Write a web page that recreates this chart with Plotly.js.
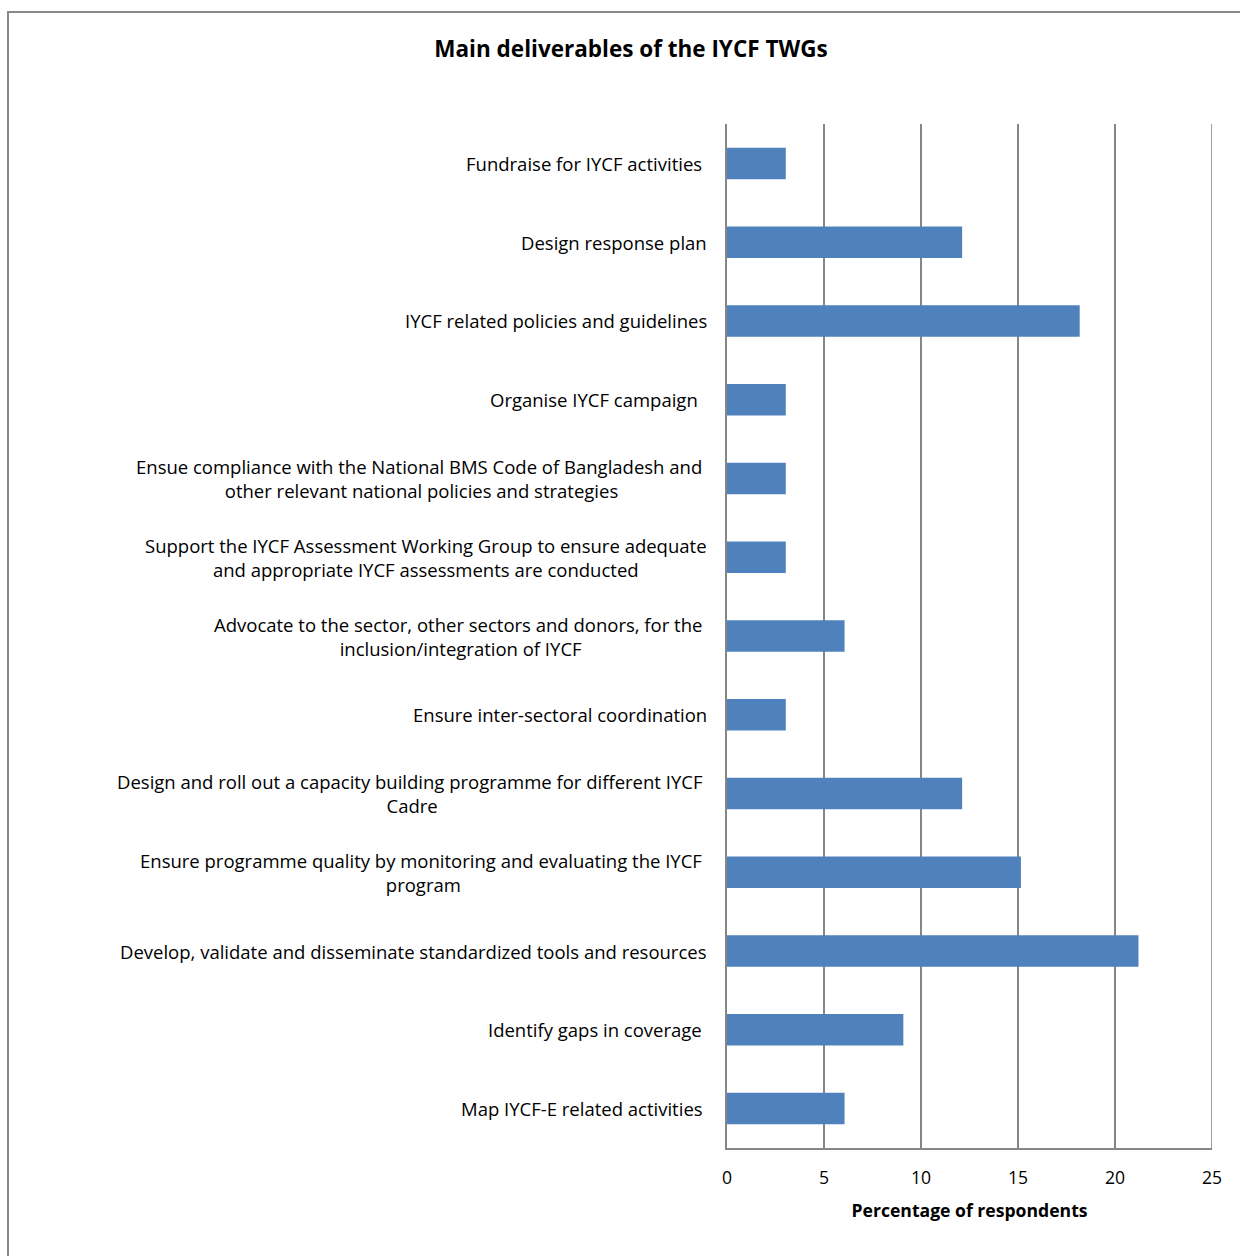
<!DOCTYPE html>
<html>
<head>
<meta charset="utf-8">
<script src="https://cdn.plot.ly/plotly-3.0.1.min.js"></script>
<style>
  html, body { margin: 0; padding: 0; background: #ffffff; overflow: hidden; }
  #frame {
    position: absolute; left: 7px; top: 11px;
    width: 1300px; height: 1300px;
    border: 2px solid #898989; box-sizing: border-box;
  }
  #chart { position: absolute; left: 0; top: 0; width: 1240px; height: 1256px; }
</style>
</head>
<body>
<div id="frame"></div>
<div id="chart"></div>
<script>
// Deliverables, listed top to bottom
const deliverables = [
  "Fundraise for IYCF activities\u00a0",
  "Design response plan",
  "IYCF related policies and guidelines",
  "Organise IYCF campaign\u00a0\u00a0",
  "Ensue compliance with the National BMS Code of Bangladesh and\u00a0<br>other relevant national policies and strategies",
  "Support the IYCF Assessment Working Group to ensure adequate<br>and appropriate IYCF assessments are conducted",
  "Advocate to the sector, other sectors and donors, for the\u00a0<br>inclusion/integration of IYCF",
  "Ensure inter-sectoral coordination",
  "Design and roll out a capacity building programme for different IYCF\u00a0<br>Cadre",
  "Ensure programme quality by monitoring and evaluating the IYCF\u00a0<br>program",
  "Develop, validate and disseminate standardized tools and resources",
  "Identify gaps in coverage\u00a0",
  "Map IYCF-E related activities\u00a0"
];
// Share of respondents naming each deliverable (%)
const percentRespondents = [3.03, 12.12, 18.18, 3.03, 3.03, 3.03, 6.06, 3.03, 12.12, 15.15, 21.21, 9.09, 6.06];
const xTicks = [0, 5, 10, 15, 20, 25];
const xMax = 25;

const font = "'Open Sans', sans-serif";
const ids = deliverables.map((_, i) => "c" + i);

const trace = {
  type: "bar",
  orientation: "h",
  y: ids,
  x: percentRespondents,
  width: 0.4,
  marker: { color: "#4f81bd", line: { width: 0 } },
  hoverinfo: "x+text",
  text: deliverables,
  textposition: "none"
};

const labels = deliverables.map((d, i) => ({
  xref: "paper", yref: "y",
  x: -0.037, y: ids[i],
  xanchor: "right", yanchor: "middle",
  align: "center",
  text: d,
  showarrow: false,
  font: { family: font, size: 18.5, color: "#000000" }
}));

const layout = {
  width: 1240, height: 1256,
  margin: { l: 727, r: 28, t: 124, b: 108 },
  paper_bgcolor: "rgba(0,0,0,0)",
  plot_bgcolor: "rgba(0,0,0,0)",
  showlegend: false,
  title: {
    text: "<b>Main deliverables of the IYCF TWGs</b>",
    font: { family: font, size: 22.5, color: "#000000" },
    x: 631 / 1240, xref: "container", xanchor: "center",
    y: 1 - 49 / 1256, yref: "container", yanchor: "middle"
  },
  xaxis: {
    range: [0, xMax],
    tickvals: xTicks,
    ticktext: xTicks.map(String),
    showgrid: true, gridcolor: "#868686", gridwidth: 1.6,
    zeroline: false,
    showline: true, linecolor: "#868686", linewidth: 1.6,
    ticks: "", ticklen: 0,
    ticklabelstandoff: 13,
    tickfont: { family: font, size: 17.6, color: "#000000" },
    title: {
      text: "<b>Percentage of respondents</b>",
      font: { family: font, size: 17.6, color: "#000000" },
      standoff: 17
    }
  },
  yaxis: {
    type: "category",
    categoryorder: "array",
    categoryarray: ids,
    autorange: "reversed",
    showticklabels: false,
    showgrid: false, zeroline: false,
    showline: true, linecolor: "#868686", linewidth: 1.6,
    ticks: ""
  },
  // gridline at the far end of the value axis
  shapes: [{
    type: "line", xref: "x", yref: "paper",
    x0: xMax, x1: xMax, y0: 0, y1: 1,
    line: { color: "#868686", width: 1.6 }
  }],
  annotations: labels
};

Plotly.newPlot("chart", [trace], layout, { displayModeBar: false, staticPlot: true });
</script>
</body>
</html>
